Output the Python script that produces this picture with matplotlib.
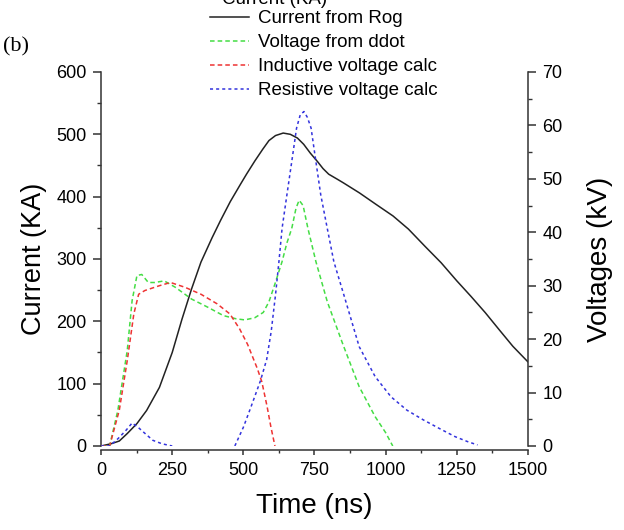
import numpy as np
import matplotlib
matplotlib.use("Agg")
import matplotlib.pyplot as plt
from matplotlib.ticker import MultipleLocator

plt.rcParams['font.family'] = ['Liberation Sans', 'DejaVu Sans']

# Current from Rogowski coil (KA), left axis
t_cur = [0, 36, 64, 92, 126, 160, 205, 250, 284, 318, 351, 390, 420, 454, 490,
         511, 540, 568, 590, 613, 640, 665, 690, 712, 735, 761, 780, 800, 830,
         852, 908, 965, 1026, 1080, 1139, 1195, 1250, 1300, 1350, 1400, 1447, 1500]
i_cur = [0, 3.7, 8, 20, 36, 57, 94, 150, 203, 252, 295, 334, 362, 392, 420,
         436, 457, 476, 490, 498, 502, 500, 494, 484, 470, 456, 445, 436, 428,
         422, 406, 388, 369, 348, 320, 294, 265, 240, 214, 186, 160, 135]

# Voltage from ddot (kV), right axis
t_ddot = [0, 30, 59, 92, 109, 126, 143, 166, 188, 222, 261, 318, 374, 430, 475,
          505, 540, 570, 590, 612, 636, 653, 670, 685, 696, 710, 727, 755, 795,
          850, 907, 963, 1000, 1025]
v_ddot = [0, 0, 6.7, 17.9, 27.2, 31.9, 32.1, 30.6, 30.6, 30.9, 29.7, 27.5, 26, 24.4, 23.8,
          23.6, 24, 25, 27, 30.5, 34.5, 38, 40.7, 44.5, 46, 45, 40.7, 34.5, 27,
          19, 11.1, 5.5, 2.5, 0]

# Inductive voltage calc (kV)
t_ind = [0, 30, 64, 92, 115, 132, 154, 205, 244, 295, 351, 408, 453, 487,
         515, 549, 565, 583, 597, 611]
v_ind = [0, 0, 6.7, 16, 24.7, 28.4, 29.1, 30, 30.6, 29.7, 28.4, 26.6, 24.7, 21.9,
         19, 14.5, 12, 7.5, 3.5, 0]

# Resistive voltage calc (kV); gap where not drawn
t_res = [0, 30, 60, 87, 109, 130, 149, 182, 215, 250, np.nan,
         470, 500, 526, 560, 582, 598, 613, 625, 636, 653, 670, 687, 700, 713,
         725, 738, 755, 772, 795, 818, 857, 907, 963, 1019, 1075, 1132, 1188,
         1244, 1289, 1323]
v_res = [0, 0, 1.4, 2.9, 4.3, 3.5, 2.6, 1.06, 0.4, 0, np.nan,
         0, 3.5, 7.2, 12.2, 16.2, 21.5, 28.3, 34.5, 40.7, 47, 53.2, 59.5, 62, 62.6,
         61.5, 59.5, 53.2, 47, 40.7, 34.5, 27.6, 18.6, 13, 9.2, 6.7, 4.9, 3.3,
         1.75, 0.8, 0.2]

fig = plt.figure(figsize=(6.24, 5.30), dpi=100)
ax = fig.add_axes([0.162, 0.1585, 0.684, 0.7057])
ax2 = ax.twinx()

l1, = ax.plot(t_cur, i_cur, color='#222222', lw=1.1, label='Current from Rog')
l2, = ax2.plot(t_ddot, v_ddot, color='#44dd44', lw=1.1, dashes=(3, 2), label='Voltage from ddot')
l3, = ax2.plot(t_ind, v_ind, color='#ee3333', lw=1.1, dashes=(3, 2), label='Inductive voltage calc')
l4, = ax2.plot(t_res, v_res, color='#3333dd', lw=1.1, dashes=(2, 2), label='Resistive voltage calc')

ax.set_xlim(0, 1500)
ax.set_ylim(0, 600)
ax2.set_ylim(0, 70)

ax.xaxis.set_major_locator(MultipleLocator(250))
ax.xaxis.set_minor_locator(MultipleLocator(125))
ax.yaxis.set_major_locator(MultipleLocator(100))
ax.yaxis.set_minor_locator(MultipleLocator(50))
ax2.yaxis.set_major_locator(MultipleLocator(10))
ax2.yaxis.set_minor_locator(MultipleLocator(5))

for a in (ax, ax2):
    a.spines['top'].set_visible(False)
    a.spines['bottom'].set_position(('outward', 3))
    for s in a.spines.values():
        s.set_color('#333333')
        s.set_linewidth(1.1)
    a.tick_params(axis='y', which='major', direction='out', length=5.8, width=1.1,
                  pad=4.5, labelsize=13, color='#333333')
    a.tick_params(axis='y', which='minor', direction='out', length=2.9, width=1.0, color='#333333')
ax.tick_params(axis='x', which='major', direction='out', length=3.5, width=1.1,
               pad=5, labelsize=13, color='#333333')
ax.tick_params(axis='x', which='minor', direction='out', length=2.3, width=1.0, color='#333333')
ax2.spines['left'].set_visible(False)
ax2.spines['bottom'].set_visible(False)
ax.spines['right'].set_visible(False)

ax.set_xlabel('Time (ns)', fontsize=20, labelpad=10)
ax.set_ylabel('Current (KA)', fontsize=19.5, labelpad=7)
ax2.set_ylabel('Voltages (kV)', fontsize=20, labelpad=18)

fig.legend(handles=[l1, l2, l3, l4], loc='upper left',
           bbox_to_anchor=(210 / 624, 1 - 10 / 530), frameon=False,
           fontsize=13.5, handlelength=2.1, handletextpad=0.45,
           labelspacing=0.37, borderpad=0, borderaxespad=0)

fig.text(0.44, 1.0, 'Current (KA)', fontsize=13.5, ha='center', va='center')
fig.text(0.005, 0.912, '(b)', fontsize=16, va='center',
         family=['Liberation Serif', 'DejaVu Serif'])

fig.savefig('out.png', dpi=100)
